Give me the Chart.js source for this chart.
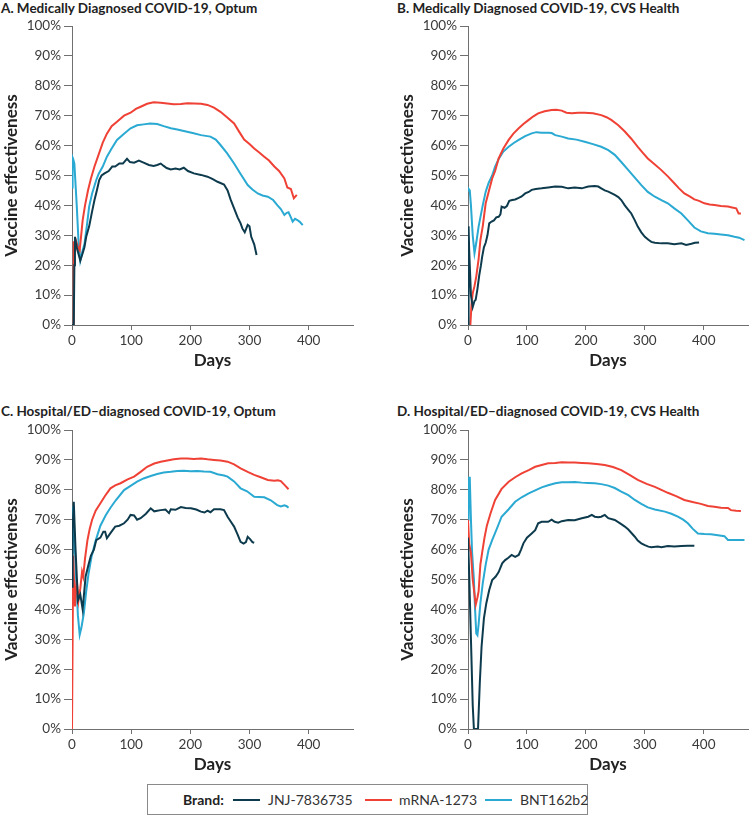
<!DOCTYPE html>
<html>
<head>
<meta charset="utf-8">
<script src="https://cdn.jsdelivr.net/npm/chart.js@4.4.1/dist/chart.umd.min.js"></script>
<style>
  body { margin: 0; background: #fff; font-family: Lato, "Open Sans", sans-serif; color: #222; }
  #wrap { position: relative; width: 750px; height: 818px; overflow: hidden; }
  canvas { position: absolute; }
  .ttl { position: absolute; font-weight: bold; font-size: 13.5px; line-height: 16px; white-space: nowrap; color: #222; }
  #legend { position: absolute; left: 147px; top: 784px; width: 439px; height: 29px; border: 1px solid #8a8a8a;
            font-size: 14px; color: #333; }
  #legend span { position: absolute; top: 6px; line-height: 17px; white-space: nowrap; }
  #legend b { position: absolute; left: 35px; top: 6px; line-height: 17px; color: #222; font-size: 14px; }
  #legend .sw { top: 14px; width: 27px; height: 2px; }
</style>
</head>
<body>
<div id="wrap">
  <div class="ttl" style="left:1px;top:0px">A. Medically Diagnosed COVID-19, Optum</div>
  <div class="ttl" style="left:397px;top:0px">B. Medically Diagnosed COVID-19, CVS Health</div>
  <div class="ttl" style="left:1px;top:403px">C. Hospital/ED–diagnosed COVID-19, Optum</div>
  <div class="ttl" style="left:397px;top:403px">D. Hospital/ED–diagnosed COVID-19, CVS Health</div>
  <canvas id="chartA" width="375" height="380" style="left:0;top:0"></canvas>
  <canvas id="chartB" width="354" height="380" style="left:396px;top:0"></canvas>
  <canvas id="chartC" width="375" height="380" style="left:0;top:404px"></canvas>
  <canvas id="chartD" width="354" height="380" style="left:396px;top:404px"></canvas>
  <div id="legend"></div>
</div>
<script>
// series names and colours
const brands = ['JNJ-7836735', 'mRNA-1273', 'BNT162b2'];
const brandColors = ['#0d3b4d', '#ef4135', '#2aa9d2'];
const yTicks = [0, 10, 20, 30, 40, 50, 60, 70, 80, 90, 100];
const xTicks = [0, 100, 200, 300, 400];

// A. Medically diagnosed, Optum
const aJnjDays = [0, 3, 4, 5, 8, 14, 18, 21, 24, 29, 34, 38, 42, 46, 50, 55, 62, 68, 73, 80, 86, 93, 98, 105, 113, 121, 130, 138, 144, 150, 155, 160, 167, 175, 182, 189, 196, 206, 218, 229, 238, 246, 257, 263, 268, 274, 280, 285, 288, 292, 297, 300, 303, 308, 312];
const aJnjVE = [0, 0, 20, 29.5, 26, 21.5, 24, 26, 29.5, 33, 38, 41.8, 45, 48.5, 50, 50.7, 51.5, 53, 53, 54, 54, 55.6, 54.5, 54.3, 55, 54.3, 53.5, 53.2, 53.5, 54, 53.2, 52.5, 52, 52.3, 52, 52.6, 51.5, 50.7, 50.2, 49.6, 48.8, 47.9, 47, 45, 42, 39, 36, 34, 32.3, 31, 33.5, 33, 29.5, 27, 23.4];
const aMrnaDays = [0, 2, 3, 5, 7, 10, 13, 18, 22, 27, 32, 38, 45, 52, 59, 67, 76, 88, 99, 108, 116, 127, 138, 150, 161, 172, 184, 195, 206, 218, 229, 240, 251, 262, 274, 283, 291, 300, 308, 316, 325, 333, 342, 350, 359, 364, 370, 375, 380];
const aMrnaVE = [0, 0, 28, 24, 28, 26, 25, 35, 40, 45, 49, 53, 57, 61, 64, 66.5, 68, 70, 71, 72.3, 73, 74, 74.5, 74.3, 74.1, 73.8, 73.9, 74.2, 74.1, 74, 73.6, 72.7, 71.3, 69.5, 67.4, 64.5, 62, 60.5, 59, 57.8, 56.3, 55, 53, 51.5, 49, 46, 45.5, 42.4, 43.5];
const aBntDays = [0, 1, 2, 4, 8, 11, 14, 18, 21, 25, 29, 34, 41, 45, 52, 59, 67, 76, 88, 99, 110, 121, 132, 144, 155, 167, 178, 189, 204, 218, 234, 243, 251, 262, 274, 285, 297, 305, 314, 322, 331, 340, 347, 353, 359, 363, 366, 370, 373, 377, 381, 385, 390];
const aBntVE = [46, 56, 55.5, 54, 40, 28, 21.5, 25, 27, 33, 39.6, 44, 48.5, 50.5, 53, 56.3, 59, 61.9, 64, 65.8, 66.8, 67.1, 67.4, 67.2, 66.5, 65.8, 65.4, 64.9, 64.2, 63.5, 63, 62, 60.2, 57.5, 54, 50.5, 46.8, 45.3, 44, 43.3, 42.9, 41.8, 40.1, 38.8, 36.8, 37.5, 37.7, 36, 34.6, 35.5, 35.1, 34.5, 33.4];

// B. Medically diagnosed, CVS Health
const bJnjDays = [0, 1, 2, 5, 8, 11, 13, 16, 19, 22, 24, 27, 30, 33, 36, 40, 44, 48, 52, 55, 57, 62, 66, 70, 75, 80, 86, 91, 97, 103, 108, 115, 125, 136, 148, 159, 170, 181, 193, 204, 215, 221, 226, 232, 238, 244, 249, 255, 260, 266, 272, 277, 283, 288, 294, 300, 306, 311, 317, 328, 339, 350, 362, 370, 379, 385, 392];
const bJnjVE = [0, 33, 25, 10, 6, 8, 8.4, 12, 16.5, 20, 22.8, 26, 27.5, 30, 34, 34.6, 35, 36, 36.2, 37, 39.6, 39.2, 39.8, 41.5, 41.8, 42, 42.5, 43, 44, 44.5, 45.2, 45.5, 45.7, 46, 46.3, 46.2, 45.7, 46, 45.7, 46.3, 46.5, 46.3, 45.7, 45, 44.6, 44, 43.5, 42.8, 41.8, 40, 38.5, 37.3, 35, 32.9, 31, 29.5, 28.5, 27.8, 27.5, 27.3, 27.3, 27, 27.3, 26.8, 27.2, 27.5, 27.6];
const bMrnaDays = [4, 6, 8, 11, 14, 18, 21, 25, 30, 35, 41, 46, 52, 60, 69, 77, 86, 94, 103, 111, 119, 130, 142, 150, 159, 167, 176, 187, 198, 212, 226, 235, 243, 255, 266, 277, 288, 297, 305, 317, 328, 339, 350, 358, 367, 376, 384, 392, 401, 410, 418, 429, 441, 448, 455, 459, 463];
const bMrnaVE = [0, 7, 10.6, 13, 16.2, 22, 28.4, 33, 40.7, 44.5, 49, 51.5, 55.7, 59, 61.9, 64, 65.8, 67.2, 68.6, 69.8, 70.8, 71.5, 71.9, 72, 71.7, 71, 70.8, 71, 71, 70.8, 70.2, 69.5, 68.6, 66.8, 64.7, 62.3, 59.6, 57.5, 55.7, 53.7, 51.8, 49.7, 47.4, 45.7, 44, 43, 42, 41.5, 40.7, 40.3, 40.1, 39.8, 39.6, 39.3, 39, 37.3, 37.3];
const bBntDays = [0, 1, 3, 5, 8, 11, 14, 18, 21, 25, 30, 35, 41, 46, 52, 60, 69, 77, 86, 97, 108, 116, 125, 136, 142, 148, 159, 170, 184, 198, 212, 226, 238, 249, 260, 272, 283, 294, 305, 317, 328, 339, 350, 362, 373, 384, 395, 407, 418, 429, 441, 452, 460, 469];
const bBntVE = [45, 45.5, 45, 40, 30, 24, 27.5, 32.9, 36, 40, 44.6, 47.5, 50, 53, 55.5, 58, 59.6, 60.8, 61.9, 63.2, 64.1, 64.5, 64.3, 64.3, 64.2, 63.5, 63, 62.4, 62, 61.3, 60.5, 59.6, 58.5, 56.9, 54.5, 51.8, 49.3, 46.8, 44.5, 42.9, 41.8, 40.7, 39, 37.3, 35, 32.6, 31.3, 30.7, 30.5, 30.3, 30, 29.5, 29.2, 28.4];

// C. Hospital/ED-diagnosed, Optum
const cJnjDays = [0, 1, 3, 6, 10, 14, 18, 23, 28, 32, 37, 41, 48, 53, 56, 59, 65, 73, 80, 88, 94, 99, 105, 110, 116, 125, 133, 139, 144, 150, 158, 164, 167, 175, 184, 192, 201, 210, 218, 224, 229, 234, 240, 251, 257, 263, 268, 274, 280, 285, 290, 294, 297, 301, 305, 308];
const cJnjVE = [47.6, 67, 76, 60, 43, 45, 40, 51, 55, 58, 60, 63.2, 64, 66, 66, 63.8, 65.5, 67.7, 68, 68.8, 70, 71.6, 71.4, 70, 70.5, 72, 73.8, 72.8, 73, 73.2, 73.4, 72.2, 73.5, 73.3, 74.2, 73.9, 73.8, 73.4, 72.7, 72.4, 73, 72.5, 73.5, 73.5, 73.2, 71, 69.5, 67.7, 65, 62.6, 62, 62.5, 64.3, 63.5, 62.5, 62.3];
const cMrnaDays = [0, 1, 2, 5, 8, 11, 14, 17, 19, 22, 26, 30, 34, 40, 48, 56, 65, 73, 82, 94, 105, 116, 127, 139, 150, 161, 172, 184, 195, 206, 218, 229, 240, 251, 263, 274, 285, 297, 308, 319, 331, 342, 348, 353, 360, 366];
const cMrnaVE = [0, 0, 58, 41, 50, 43, 47, 52.6, 51, 57, 63, 67, 70, 73, 75.5, 78, 80.5, 81.5, 82.2, 83.5, 84.4, 86, 87.7, 88.8, 89.4, 89.8, 90.2, 90.5, 90.5, 90.3, 90.5, 90.2, 90, 89.8, 89.4, 88.5, 87.2, 86, 85, 84.2, 83.3, 83, 83.2, 82.9, 81.5, 80.2];
const cBntDays = [0, 1, 2, 4, 7, 10, 13, 16, 20, 24, 28, 33, 40, 48, 57, 65, 74, 88, 99, 110, 121, 133, 144, 155, 167, 178, 189, 200, 212, 223, 234, 246, 257, 263, 274, 285, 296, 308, 316, 325, 336, 347, 353, 359, 363, 366];
const cBntVE = [58.8, 72, 74.4, 65, 50, 38, 31.5, 34, 38.7, 46, 52, 57.6, 63, 68, 71.5, 74, 76.5, 79.9, 81.3, 82.7, 83.8, 84.6, 85.3, 85.8, 86, 86.3, 86.4, 86.2, 86.3, 86.1, 86, 85.2, 84.8, 84.4, 82.8, 80.5, 79.5, 77.7, 77.6, 77.5, 76.5, 74.9, 74.4, 74.8, 74.5, 74];

// D. Hospital/ED-diagnosed, CVS Health
const dJnjDays = [0, 2, 5, 8, 10, 17, 20, 23, 27, 31, 36, 41, 47, 52, 58, 63, 68, 74, 80, 86, 90, 94, 100, 108, 114, 119, 125, 136, 142, 147, 153, 159, 170, 181, 193, 204, 210, 215, 221, 226, 232, 238, 249, 260, 266, 272, 283, 288, 294, 300, 306, 311, 322, 328, 339, 350, 362, 373, 384];
const dJnjVE = [64, 52, 30, 8, 0, 0, 15.3, 27.5, 37, 42, 46.5, 49.8, 51, 52.5, 55.4, 56.5, 57.2, 58.2, 57.6, 58.2, 60, 62.1, 64, 65.4, 66.5, 68.8, 69.3, 69.3, 70, 69.3, 69, 69.5, 69.9, 69.8, 70.5, 71, 71.6, 71, 70.8, 71, 71.6, 70.5, 69.9, 68.5, 67.7, 66.7, 64.3, 63, 62.1, 61.5, 61, 60.8, 61, 60.8, 61.2, 61, 61.2, 61.3, 61.3];
const dMrnaDays = [0, 2, 5, 8, 11, 13, 16, 18, 21, 24, 28, 32, 38, 46, 57, 69, 80, 91, 103, 114, 125, 136, 148, 159, 170, 181, 193, 204, 218, 232, 246, 260, 274, 288, 303, 317, 328, 339, 353, 367, 381, 395, 407, 418, 429, 441, 446, 455, 463];
const dMrnaVE = [70, 62, 58.8, 50, 45, 41.5, 44, 46, 55, 59, 64, 68, 72, 76.6, 80.3, 82.7, 84.2, 85.5, 86.6, 87.7, 88.3, 88.9, 89, 89.2, 89.1, 89.1, 89, 88.9, 88.6, 88.3, 87.6, 86.6, 85, 83.3, 82, 81, 80, 79, 77.9, 76.6, 75.9, 75.3, 74.6, 74.3, 74, 73.9, 73.2, 73, 72.9];
const dBntDays = [0, 1, 3, 5, 7, 10, 12, 14, 16, 18, 21, 25, 30, 35, 41, 49, 57, 69, 80, 91, 103, 114, 125, 136, 148, 159, 170, 181, 193, 204, 215, 226, 238, 249, 260, 272, 283, 294, 305, 317, 334, 345, 356, 365, 373, 381, 390, 401, 412, 424, 435, 441, 452, 469];
const dBntVE = [70, 84, 84, 70, 58.8, 50, 40, 32, 31.4, 35, 42, 48.7, 55, 60, 63.2, 67, 71, 73.5, 76, 77.5, 78.8, 79.8, 80.8, 81.5, 82.2, 82.5, 82.5, 82.6, 82.4, 82.3, 82.2, 81.9, 81.4, 80.6, 79.4, 78.2, 76.6, 75.3, 74.1, 73.4, 72.7, 72, 71, 70, 68.8, 67, 65.4, 65.2, 65.1, 64.8, 64.5, 63.2, 63.2, 63.2];

const axisColor = '#707070';
const tickColor = '#3a3a3a';
const fontFam = 'Lato, "Open Sans", sans-serif';

function makeChart(id, series, padRight) {
  const datasets = series.map((s, i) => ({
    label: brands[i],
    data: s[0].map((d, k) => ({ x: d, y: s[1][k] })),
    borderColor: brandColors[i],
    borderWidth: 2,
    pointRadius: 0,
    tension: 0,
    fill: false
  }));
  return new Chart(document.getElementById(id), {
    type: 'line',
    data: { datasets: datasets },
    options: {
      responsive: false,
      animation: false,
      layout: { padding: { top: 26, right: padRight, left: 0, bottom: 0 } },
      plugins: { legend: { display: false }, tooltip: { enabled: false } },
      scales: {
        x: {
          type: 'linear', min: 0, max: 475,
          afterBuildTicks: sc => { sc.ticks = xTicks.map(v => ({ value: v })); },
          afterFit: sc => { sc.height = 55; },
          ticks: { color: tickColor, font: { family: fontFam, size: 13.5 }, padding: 3, maxRotation: 0 },
          grid: { drawOnChartArea: false, tickLength: 5, color: axisColor },
          border: { color: axisColor },
          title: { display: true, text: 'Days', color: '#222', font: { family: fontFam, size: 17, weight: 'bold' }, padding: { top: 0, bottom: 9 } }
        },
        y: {
          min: 0, max: 100,
          afterBuildTicks: sc => { sc.ticks = yTicks.map(v => ({ value: v })); },
          afterFit: sc => { sc.width = 72; },
          ticks: { color: tickColor, font: { family: fontFam, size: 13.5 }, padding: 3, callback: v => v + '%' },
          grid: { drawOnChartArea: false, tickLength: 8, color: axisColor },
          border: { color: axisColor },
          title: { display: true, text: 'Vaccine effectiveness', color: '#222', font: { family: fontFam, size: 17, weight: 'bold' }, padding: { top: 1, bottom: 0 } }
        }
      }
    }
  });
}

makeChart('chartA', [[aJnjDays, aJnjVE], [aMrnaDays, aMrnaVE], [aBntDays, aBntVE]], 22);
makeChart('chartB', [[bJnjDays, bJnjVE], [bMrnaDays, bMrnaVE], [bBntDays, bBntVE]], 2);
makeChart('chartC', [[cJnjDays, cJnjVE], [cMrnaDays, cMrnaVE], [cBntDays, cBntVE]], 22);
makeChart('chartD', [[dJnjDays, dJnjVE], [dMrnaDays, dMrnaVE], [dBntDays, dBntVE]], 2);

// legend (positions relative to the legend box)
const legend = document.getElementById('legend');
const swatchLeft = [85, 217, 337];
const labelLeft = [120, 251, 372];
let html = '<b>Brand:</b>';
brands.forEach((b, i) => {
  html += `<span class="sw" style="left:${swatchLeft[i]}px;background:${brandColors[i]}"></span>`;
  html += `<span style="left:${labelLeft[i]}px">${b}</span>`;
});
legend.innerHTML = html;
</script>
</body>
</html>
